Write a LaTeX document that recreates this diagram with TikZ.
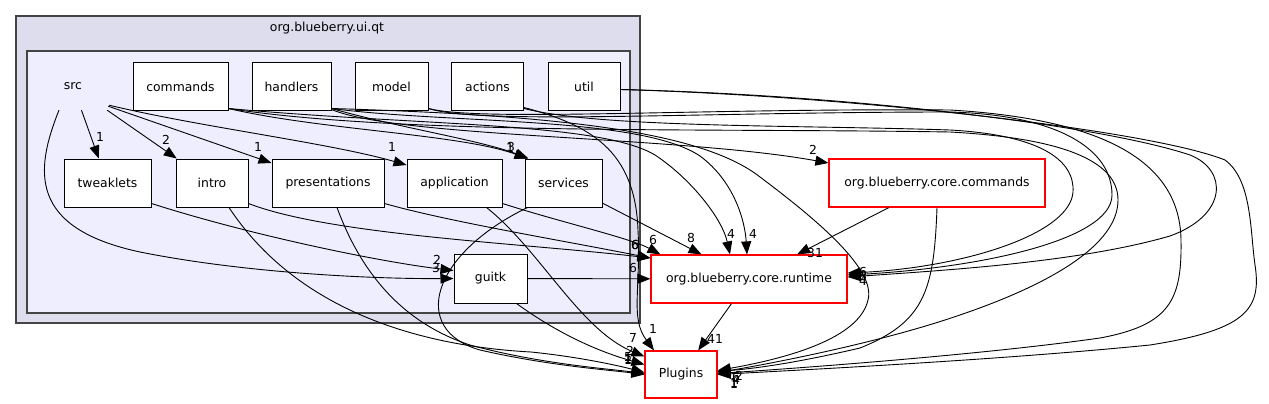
\documentclass[tikz,border=0pt]{standalone}
\usepackage{fontspec}
\newfontfamily\dvs{DejaVu Sans}
\usetikzlibrary{arrows.meta,calc}
\definecolor{clusterout}{HTML}{DDDDEE}
\definecolor{clusterin}{HTML}{EEEEFF}
\definecolor{clusterline}{HTML}{444444}
\begin{document}
\begin{tikzpicture}[x=1pt,y=-1pt,
  base/.style={font=\dvs\fontsize{12.4}{14}\selectfont},
  dirbox/.style={base, draw=black, fill=white, line width=1pt, minimum height=47, inner sep=0},
  extbox/.style={base, draw=red, fill=white, line width=1.2pt, minimum height=48, inner sep=0},
  dep/.style={draw=black, line width=0.9pt, -{Triangle[length=13pt,width=10pt]}},
  lbl/.style={base, inner sep=0},
  cluster/.style={draw=clusterline, line width=1.5pt}]
\useasboundingbox (0,0) rectangle (1269,404);
% clusters
\draw[cluster, fill=clusterout] (16,16) rectangle (640,323);
\node[base] (title) at (327,28) {org.blueberry.ui.qt};
\draw[cluster, fill=clusterin] (27,51) rectangle (630,313);
% nodes
\node[base, minimum width=70, minimum height=47, inner sep=0] (src) at (73,86.5) {src};
\node[dirbox, minimum width=95] (commands) at (180.5,86.5) {commands};
\node[dirbox, minimum width=79] (handlers) at (291.5,86.5) {handlers};
\node[dirbox, minimum width=73] (model) at (391.5,86.5) {model};
\node[dirbox, minimum width=72] (actions) at (487.5,86.5) {actions};
\node[dirbox, minimum width=72] (util) at (584,86.5) {util};
\node[dirbox, minimum width=87, minimum height=48] (tweaklets) at (107.5,183) {tweaklets};
\node[dirbox, minimum width=72, minimum height=48] (intro) at (212,183) {intro};
\node[dirbox, minimum width=112, minimum height=48] (presentations) at (328,183) {presentations};
\node[dirbox, minimum width=95, minimum height=48] (application) at (454.5,183) {application};
\node[dirbox, minimum width=77, minimum height=48] (services) at (563.5,183) {services};
\node[dirbox, minimum width=73, minimum height=49] (guitk) at (490.5,278.5) {guitk};
\node[extbox, minimum width=216] (cc) at (937,183) {org.blueberry.core.commands};
\node[extbox, minimum width=196] (runtime) at (749,279) {org.blueberry.core.runtime};
\node[extbox, minimum width=72, minimum height=47] (Plugins) at (681,374.5) {Plugins};
% edges from src
\draw[dep] (src) -- (tweaklets) node[lbl] (l1) at (100,137) {1};
\draw[dep] ($(src.south east)+(-1,0)$) -- (intro) node[lbl] (l2) at (166,140) {2};
\draw[dep] ($(src.south east)+(0,-4)$) -- ($(presentations.west)+(0,-20)$) node[lbl] (l3) at (258,147) {1};
\draw[dep] ($(src.south east)+(1,-5)$) .. controls (200,127) and (330,143) .. ($(application.west)+(0,-18)$) node[lbl] (l4) at (392,147) {1};
\draw[dep] ($(src.south)+(-14,0)$) .. controls (35,170) and (28,228) .. (140,252) .. controls (250,274) and (380,279) .. (guitk.west) node[lbl] (l5) at (436,268) {3};
\draw[dep] ($(tweaklets.south east)+(0,-4)$) .. controls (250,235) and (380,262) .. ($(guitk.west)+(0,-8)$) node[lbl] (l6) at (437,260) {2};
% top row to services
\draw[dep] ($(commands.south east)+(0,-2)$) .. controls (320,130) and (460,134) .. ($(services.north west)+(3,0)$) node[lbl] (l7) at (510,148) {1};
\draw[dep] ($(handlers.south east)+(0,-2)$) .. controls (400,128) and (480,140) .. ($(services.north west)+(4,0)$) node[lbl] (l8) at (511,147) {3};
% to runtime
\draw[dep] ($(intro.south east)+(0,-4)$) .. controls (330,235) and (520,243) .. ($(runtime.west)+(0,-21)$) node[lbl] (l9) at (635,245) {6};
\draw[dep] ($(presentations.south east)+(0,-4)$) .. controls (450,222) and (560,240) .. ($(runtime.west)+(0,-21)$) node[lbl] (l10) at (635,245) {6};
\draw[dep] ($(application.south east)+(0,-4)$) .. controls (560,222) and (630,238) .. ($(runtime.north west)+(10,0)$) node[lbl] (l11) at (653,240) {6};
\draw[dep] (services) -- (runtime) node[lbl] (l12) at (691,238) {8};
\draw[dep] (guitk) -- (runtime) node[lbl] (l13) at (633,268) {6};
\draw[dep] ($(commands.south east)+(0,-2)$) .. controls (420,126) and (600,122) .. (655,155) .. controls (690,178) and (722,218) .. ($(runtime.north)+(-19,0)$) node[lbl] (l14) at (731,234) {4};
\draw[dep] ($(handlers.south east)+(0,-2)$) .. controls (450,124) and (640,116) .. (700,156) .. controls (735,182) and (745,222) .. ($(runtime.north)+(-2,0)$) node[lbl] (l15) at (753,234) {4};
\draw[dep] (cc) -- (runtime) node[lbl] (l16) at (815,253) {31};
\draw[dep] ($(handlers.south east)+(0,-1)$) .. controls (400,138) and (680,136) .. ($(cc.west)+(0,-20)$) node[lbl] (l17) at (813,150) {2};
% right loops to runtime
\draw[dep] ($(actions.south east)+(0,-2)$) .. controls (600,128) and (800,125) .. (950,130) .. controls (1040,135) and (1075,160) .. (1073,192) .. controls (1070,235) and (960,268) .. ($(runtime.east)+(0,-6)$) node[lbl] (l18) at (863,272) {6};
\draw[dep] ($(model.south east)+(0,-2)$) .. controls (480,125) and (700,112) .. (950,112) .. controls (1060,115) and (1112,150) .. (1112,195) .. controls (1112,240) and (980,268) .. ($(runtime.east)+(0,-4)$) node[lbl] (l19) at (863,276) {8};
\draw[dep] ($(util.east)+(0,3)$) .. controls (850,95) and (1100,125) .. (1190,155) .. controls (1228,170) and (1228,215) .. (1170,236) .. controls (1080,262) and (950,270) .. ($(runtime.east)+(0,-2)$) node[lbl] (l20) at (863,281) {4};
% runtime to Plugins
\draw[dep] (runtime) -- (Plugins) node[lbl] (l21) at (715,339) {41};
% to Plugins top
\draw[dep] ($(actions.south east)+(0,-3)$) .. controls (590,125) and (635,150) .. (638,230) .. controls (641,290) and (630,318) .. ($(Plugins.north)+(-27,0)$) node[lbl] (l22) at (653,329) {1};
% to Plugins right
\draw[dep] ($(handlers.south east)+(0,-2)$) .. controls (550,115) and (700,130) .. (760,177) .. controls (820,222) and (876,270) .. (868,300) .. controls (860,335) and (800,356) .. ($(Plugins.east)+(0,-4)$) node[lbl] (l23) at (736,377) {6};
\draw[dep] (cc.south) .. controls (934,290) and (925,322) .. (860,348) .. controls (800,362) and (760,368) .. ($(Plugins.east)+(0,-3)$) node[lbl] (l24) at (739,376) {2};
\draw[dep] ($(commands.south east)+(0,-2)$) .. controls (400,135) and (700,128) .. (950,132) .. controls (1060,138) and (1118,160) .. (1118,200) .. controls (1118,245) and (1050,285) .. (954,317) .. controls (880,342) and (780,362) .. ($(Plugins.east)+(0,-2)$) node[lbl] (l25) at (734,383) {1};
\draw[dep] ($(model.south east)+(0,-2)$) .. controls (480,122) and (700,108) .. (950,110) .. controls (1120,120) and (1180,170) .. (1181,240) .. controls (1182,300) and (1170,325) .. (1100,338) .. controls (980,355) and (800,368) .. ($(Plugins.east)+(0,-1)$) node[lbl] (l26) at (736,380) {4};
\draw[dep] ($(util.east)+(0,3)$) .. controls (850,96) and (1150,130) .. (1225,160) .. controls (1252,180) and (1250,230) .. (1255,265) .. controls (1262,310) and (1245,330) .. (1150,345) .. controls (1000,360) and (800,370) .. (Plugins.east) node[lbl] (l27) at (734,384) {1};
% to Plugins left
\draw[dep] ($(intro.south)+(17,0)$) .. controls (290,300) and (400,345) .. (531,352) .. controls (580,357) and (620,366) .. ($(Plugins.west)+(0,-2)$) node[lbl] (l28) at (628,357) {5};
\draw[dep] ($(presentations.south)+(9,0)$) .. controls (360,270) and (400,322) .. (470,345) .. controls (540,364) and (610,369) .. ($(Plugins.west)+(0,-1)$) node[lbl] (l29) at (628,359) {1};
\draw[dep] ($(application.south)+(32,0)$) .. controls (540,250) and (580,330) .. ($(Plugins.west)+(0,-18)$) node[lbl] (l30) at (633,338) {7};
\draw[dep] ($(services.south west)+(3,0)$) .. controls (430,255) and (410,330) .. (480,350) .. controls (550,366) and (610,370) .. (Plugins.west) node[lbl] (l31) at (628,360) {1};
\draw[dep] ($(guitk.south)+(26,0)$) .. controls (560,335) and (600,352) .. ($(Plugins.west)+(0,-10)$) node[lbl] (l32) at (630,351) {2};
\end{tikzpicture}
\end{document}
